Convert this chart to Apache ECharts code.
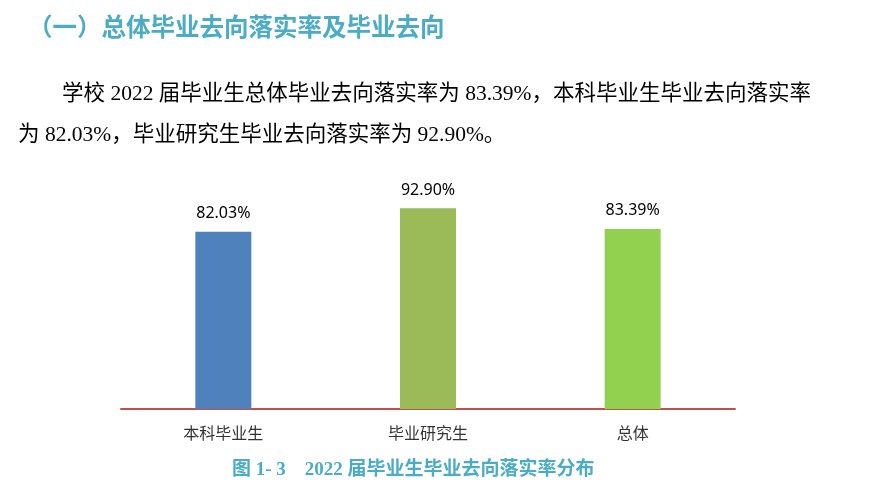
<!DOCTYPE html>
<html>
<head>
<meta charset="utf-8">
<script src="https://cdn.jsdelivr.net/npm/echarts@6/dist/echarts.min.js"></script>
<style>
html,body{margin:0;padding:0;background:#fff;}
#c{width:879px;height:485px;}
</style>
</head>
<body>
<div id="c"></div>
<script>
const categories = ['本科毕业生', '毕业研究生', '总体'];
const values = [82.03, 92.90, 83.39];
const barColors = ['#4F81BD', '#9BBB59', '#92D050'];
const headingText = '（一）总体毕业去向落实率及毕业去向';
const paraLine1 = '学校 2022 届毕业生总体毕业去向落实率为 83.39%，本科毕业生毕业去向落实率';
const paraLine2 = '为 82.03%，毕业研究生毕业去向落实率为 92.90%。';
const captionText = '图 1- 3    2022 届毕业生毕业去向落实率分布';

const chart = echarts.init(document.getElementById('c'));
const serif = '"Liberation Serif", "Noto Sans CJK SC", serif';
chart.setOption({
  backgroundColor: '#ffffff',
  animation: false,
  grid: { left: 121, right: 144, top: 193, bottom: 76 },
  xAxis: {
    type: 'category',
    data: categories,
    axisLine: { show: true, lineStyle: { color: '#C0504D', width: 2 } },
    axisTick: { show: false },
    axisLabel: { color: '#333', fontSize: 16, margin: 16, fontFamily: '"Noto Sans CJK SC", sans-serif' }
  },
  yAxis: {
    type: 'value', min: 0, max: 100, show: false,
    splitLine: { show: false }
  },
  series: [{
    type: 'bar',
    barWidth: 56,
    data: values.map((v, i) => ({ value: v, itemStyle: { color: barColors[i] } })),
    label: {
      show: true, position: 'top', distance: 10,
      formatter: p => p.value.toFixed(2) + '%',
      color: '#000', fontSize: 16, fontFamily: '"Noto Sans", sans-serif'
    }
  }],
  graphic: [
    { type: 'text', left: 28, top: 14, style: { text: headingText, fill: '#4BACC6', font: 'bold 24.5px "Noto Sans CJK SC", sans-serif' } },
    { type: 'text', left: 62, top: 84, style: { text: paraLine1, fill: '#000', font: '21.5px ' + serif } },
    { type: 'text', left: 18, top: 125, style: { text: paraLine2, fill: '#000', font: '21.5px ' + serif } },
    { type: 'text', left: 232, top: 461, style: { text: captionText, fill: '#4BACC6', font: 'bold 19px ' + serif } }
  ]
});
</script>
</body>
</html>
